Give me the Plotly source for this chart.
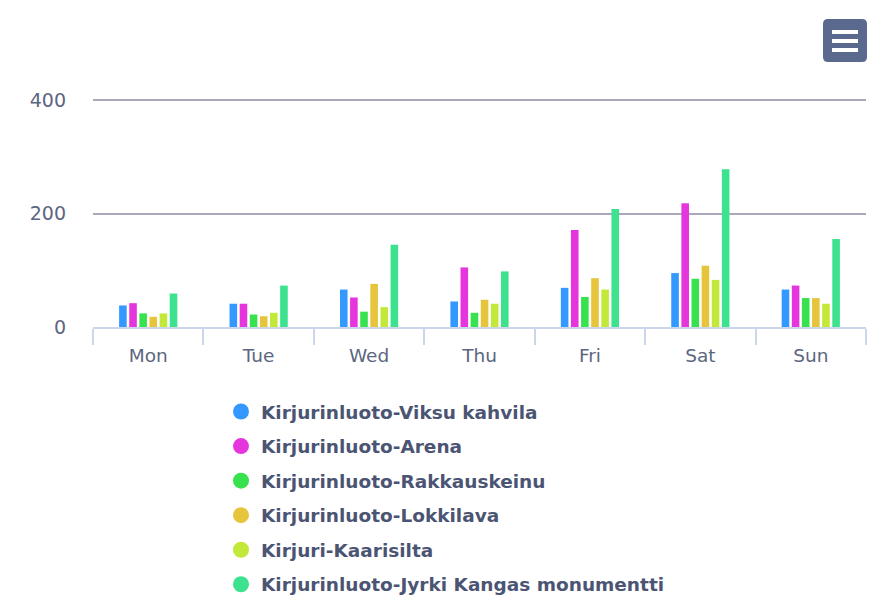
import plotly.graph_objects as go

days = ["Mon", "Tue", "Wed", "Thu", "Fri", "Sat", "Sun"]
series_names = [
    "Kirjurinluoto-Viksu kahvila",
    "Kirjurinluoto-Arena",
    "Kirjurinluoto-Rakkauskeinu",
    "Kirjurinluoto-Lokkilava",
    "Kirjuri-Kaarisilta",
    "Kirjurinluoto-Jyrki Kangas monumentti",
]
viksu = [38, 41, 66, 45, 69, 95, 66]
arena = [42, 41, 52, 105, 171, 218, 73]
rakkaus = [24, 22, 27, 25, 53, 85, 51]
lokki = [18, 19, 76, 48, 86, 108, 51]
kaari = [24, 25, 35, 41, 66, 83, 41]
jyrki = [59, 73, 145, 98, 208, 278, 155]
values = [viksu, arena, rakkaus, lokki, kaari, jyrki]
colors = ["#3399ff", "#e535dd", "#38e24e", "#e6c43c", "#c2e83a", "#3ce28e"]
y_ticks = [0, 200, 400]

W, H = 879, 596
L, R, T, B = 93, 866, 94, 327
Y400 = 100  # pixel row of the 400 gridline
ymax = 400 * (B - T) / (B - Y400)
text_col = "#4b5573"
font = "DejaVu Sans"

fig = go.Figure()
for name, vals, col in zip(series_names, values, colors):
    fig.add_trace(go.Bar(x=days, y=vals, name=name, marker_color=col,
                         marker_line_width=0, showlegend=False, legendgroup=name))
for name, col in zip(series_names, colors):
    fig.add_trace(go.Scatter(x=[None], y=[None], mode="markers", name=name,
                             marker=dict(color=col, size=20, symbol="circle"),
                             legendgroup=name, showlegend=True))

def px(x):
    return (x - L) / (R - L)

def py(y):
    return (B - y) / (B - T)

shapes = []
# export menu button
x0, x1, y0, y1, r = 823, 867, 19, 62, 5
path = (f"M {px(x0 + r)},{py(y0)} L {px(x1 - r)},{py(y0)} "
        f"Q {px(x1)},{py(y0)} {px(x1)},{py(y0 + r)} L {px(x1)},{py(y1 - r)} "
        f"Q {px(x1)},{py(y1)} {px(x1 - r)},{py(y1)} L {px(x0 + r)},{py(y1)} "
        f"Q {px(x0)},{py(y1)} {px(x0)},{py(y1 - r)} L {px(x0)},{py(y0 + r)} "
        f"Q {px(x0)},{py(y0)} {px(x0 + r)},{py(y0)} Z")
shapes.append(dict(type="path", xref="paper", yref="paper", path=path,
                   fillcolor="#5a6a8e", line=dict(width=0), layer="above"))
for ly in (32, 41, 50):
    shapes.append(dict(type="line", xref="paper", yref="paper",
                       x0=px(832), x1=px(858), y0=py(ly), y1=py(ly),
                       line=dict(color="white", width=4), layer="above"))

fig.update_layout(
    width=W, height=H,
    margin=dict(l=L, r=W - R, t=T, b=H - B, pad=0, autoexpand=False),
    paper_bgcolor="white", plot_bgcolor="white",
    barmode="group", bargap=0.45, bargroupgap=0.25,
    font=dict(family=font, size=18, color=text_col),
    showlegend=True,
    legend=dict(orientation="v", x=px(221), xanchor="left",
                y=py(393), yanchor="top", tracegroupgap=7.5,
                font=dict(family=font, size=18.5, color=text_col, weight="bold"),
                itemsizing="trace", bgcolor="rgba(0,0,0,0)"),
    shapes=shapes,
)
fig.update_xaxes(showgrid=False, showline=True, linecolor="#ccd6eb", linewidth=2,
                 ticks="outside", tickson="boundaries", ticklen=16, tickwidth=2,
                 tickcolor="#ccd6eb", tickfont=dict(size=18.5, color="#5c6680"),
                 ticklabelstandoff=11, fixedrange=True)
fig.update_yaxes(range=[0, ymax], tickvals=y_ticks, showgrid=True, gridcolor="#a9a9ba",
                 gridwidth=1.5, zeroline=False, showline=False, ticks="",
                 ticklabelstandoff=26, tickfont=dict(size=19, color="#5c6680"),
                 fixedrange=True)

fig.write_html("out.html", config={"displayModeBar": False},
               post_script="document.body.style.margin='0';")
